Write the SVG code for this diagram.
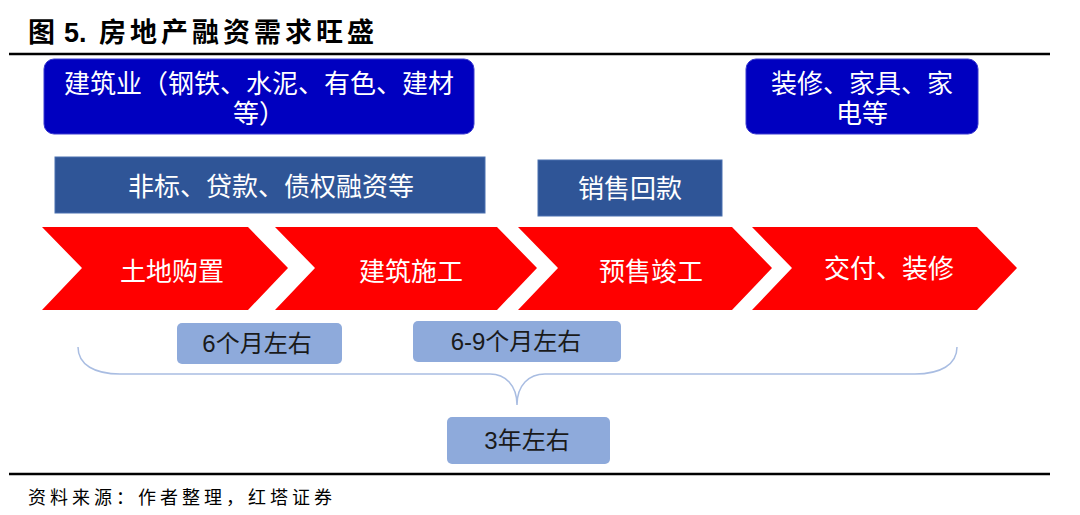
<svg xmlns="http://www.w3.org/2000/svg" width="1080" height="515" viewBox="0 0 1080 515">
<style>
.cjk{font-family:"Liberation Sans","Noto Sans CJK SC",sans-serif}
.wt{fill:#ffffff;font-size:26px;text-anchor:middle}
.dk{fill:#1a1a1a;font-size:24px;text-anchor:middle}
.chev{fill:#ff0000}
.navy{fill:#0000c0;stroke:#3a3ad0;stroke-width:1}
.steel{fill:#2f5597;stroke:#4a70b0;stroke-width:1}
.light{fill:#8eaadb}
.rule{stroke:#000;stroke-width:2.5}
</style>
<rect width="1080" height="515" fill="#ffffff"/>
<g id="title">
<text y="42" class="cjk" font-size="27" font-weight="bold" fill="#000"><tspan x="28">图</tspan><tspan x="64">5.</tspan><tspan x="99" letter-spacing="4">房地产融资需求旺盛</tspan></text>
</g>
<line class="rule" x1="9" y1="54" x2="1050" y2="54"/>
<g id="node-jianzhuye">
<rect class="navy" x="44" y="59" width="430" height="75" rx="10"/>
<text class="cjk wt" x="259" y="93">建筑业（钢铁、水泥、有色、建材</text>
<text class="cjk wt" x="259" y="123">等）</text>
</g>
<g id="node-zhuangxiu-top">
<rect class="navy" x="746" y="59" width="232" height="75" rx="10"/>
<text class="cjk wt" x="862" y="93">装修、家具、家</text>
<text class="cjk wt" x="862" y="123">电等</text>
</g>
<g id="node-feibiao">
<rect class="steel" x="55" y="157" width="430" height="56"/>
<text class="cjk wt" x="271" y="196">非标、贷款、债权融资等</text>
</g>
<g id="node-xiaoshou">
<rect class="steel" x="538" y="160" width="184" height="56"/>
<text class="cjk wt" x="630" y="198">销售回款</text>
</g>
<g id="node-tudi">
<polygon class="chev" points="42,227 248,227 288,268 248,310 42,310 82,268"/>
<text class="cjk wt" x="172" y="281">土地购置</text>
</g>
<g id="node-jianzhu">
<polygon class="chev" points="275,227 497,227 537,268 497,310 275,310 315,268"/>
<text class="cjk wt" x="411" y="281">建筑施工</text>
</g>
<g id="node-yushou">
<polygon class="chev" points="518,227 732,227 772,268 732,310 518,310 558,268"/>
<text class="cjk wt" x="651" y="281">预售竣工</text>
</g>
<g id="node-jiaofu">
<polygon class="chev" points="752,227 977,227 1017,268 977,310 752,310 792,268"/>
<text class="cjk wt" x="889" y="278">交付、装修</text>
</g>
<g id="connectors">
<path d="M78,347 C78,365 95,374 120,374 L490,374 C505,374 517,385 517,405 C517,385 529,374 545,374 L915,374 C940,374 957,365 957,347" fill="none" stroke="#a9bde2" stroke-width="1.5"/>
</g>
<g id="node-6m">
<rect class="light" x="177" y="323" width="165" height="41" rx="5"/>
<text class="cjk dk" x="257" y="352" font-size="25">6个月左右</text>
</g>
<g id="node-69m">
<rect class="light" x="413" y="321" width="208" height="41" rx="5"/>
<text class="cjk dk" x="516" y="350" font-size="25">6-9个月左右</text>
</g>
<g id="node-3y">
<rect class="light" x="447" y="417" width="163" height="47" rx="5"/>
<text class="cjk dk" x="527" y="449" font-size="25">3年左右</text>
</g>
<line class="rule" x1="9" y1="474" x2="1050" y2="474"/>
<g id="footer">
<text x="28" y="504" class="cjk" font-size="18" fill="#000" letter-spacing="4">资料来源：作者整理，红塔证券</text>
</g>
</svg>
